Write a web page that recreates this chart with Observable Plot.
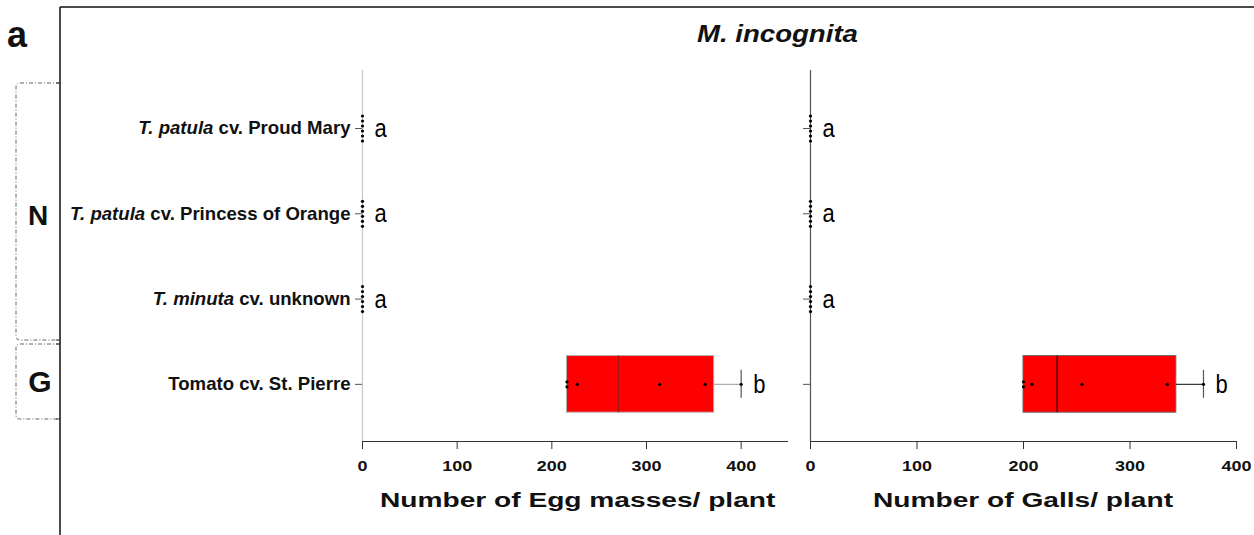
<!DOCTYPE html>
<html><head><meta charset="utf-8">
<script src="https://cdn.jsdelivr.net/npm/d3@7"></script>
<script src="https://cdn.jsdelivr.net/npm/@observablehq/plot@0.6"></script>
<style>
html,body{margin:0;padding:0;background:#fff;}
#wrap{position:relative;width:1254px;height:535px;overflow:hidden;font-family:"Liberation Sans",Arial,sans-serif;}
#wrap > svg{position:absolute;}
</style></head><body><div id="wrap"></div>
<script>
// ---- data ----
const species = ["T. patula", "T. patula", "T. minuta", "Tomato"];
const speciesItalic = [true, true, true, false];
const cultivars = ["Proud Mary", "Princess of Orange", "unknown", "St. Pierre"];
const groupNames = ["N", "G"];
const eggMasses = [[0,0,0,0,0,0],[0,0,0,0,0,0],[0,0,0,0,0,0],[216,216,227,314,362,400]];
const galls = [[0,0,0,0,0,0],[0,0,0,0,0,0],[0,0,0,0,0,0],[200,200,208,255,335,369]];
const eggLetters = ["a","a","a","b"];
const gallLetters = ["a","a","a","b"];
const xTicks = [0,100,200,300,400];
const panelLabel = "a";
const title = "M. incognita";
const eggLabel = "Number of Egg masses/ plant";
const gallLabel = "Number of Galls/ plant";

const labels = species.map((s,i)=> s + " cv. " + cultivars[i]);
const yDomain = [-0.68, 3.67];
const STACK = 0.0586, BOXH = 0.332, CAPH = 0.164;

function q6(s, p){ const h=(s.length+1)*p; const lo=Math.floor(h);
  if(lo<1) return s[0]; if(lo>=s.length) return s[s.length-1];
  return s[lo-1]+(h-lo)*(s[lo]-s[lo-1]); }

function scaleTexts(svg, sel, sx, sy){
  svg.querySelectorAll(sel).forEach(t=>{
    let tr = t.getAttribute("transform");
    if(!tr){ tr = `translate(${t.getAttribute("x")||0},${t.getAttribute("y")||0})`; t.removeAttribute("x"); t.removeAttribute("y"); }
    t.setAttribute("transform", tr + ` scale(${sx},${sy})`);
  });
}

function makePanel(values, letters, cfg){
  const stats = values.map((v,i)=>{ const s=[...v].sort((a,b)=>a-b);
    return {i, q1:q6(s,.25), med:q6(s,.5), q3:q6(s,.75), max:s[s.length-1], letter:letters[i]}; });
  const pts = [];
  values.forEach((v,i)=>{ const counts=d3.rollup(v,g=>g.length,d=>d); const seen=new Map();
    v.forEach(val=>{ const n=counts.get(val); const k=seen.get(val)||0; seen.set(val,k+1);
      pts.push({i, value:val, off:(k-(n-1)/2)*STACK}); }); });
  const boxes = stats.filter(d=>d.q3>d.q1);
  const whisk = stats.filter(d=>d.max>d.q3);
  const svg = Plot.plot({
    width: cfg.width, height: 475,
    marginLeft: cfg.ml, marginRight: cfg.mr, marginTop: 10, marginBottom: 94,
    style: {fontFamily:'"Liberation Sans", Arial, sans-serif', background:"transparent", overflow:"visible"},
    x: {domain: cfg.xdom},
    y: {domain: yDomain, reverse: true},
    marks: [
      Plot.ruleX([0], {stroke: cfg.yAxisColor, strokeWidth: 1.2}),
      Plot.ruleY([yDomain[1]], {stroke: "#333", strokeWidth: 1.2}),
      Plot.rect(boxes, {x1:"q1", x2:"q3", y1:d=>d.i-BOXH, y2:d=>d.i+BOXH, fill:"#ff0000", stroke: cfg.boxStroke, strokeWidth: 1}),
      Plot.ruleX(boxes, {x:"med", y1:d=>d.i-BOXH, y2:d=>d.i+BOXH, stroke: cfg.medColor, strokeWidth: 1}),
      Plot.ruleY(whisk, {y:"i", x1:"q3", x2:"max", stroke: cfg.whisker, strokeWidth: 1.2}),
      Plot.ruleX(whisk, {x:"max", y1:d=>d.i-CAPH, y2:d=>d.i+CAPH, stroke: cfg.cap, strokeWidth: 1.2}),
      Plot.dot(pts, {x:"value", y:d=>d.i+d.off, r:1.6, fill:"#000", stroke:null}),
      Plot.text(stats, {x:"max", y:"i", text:"letter", dx:12, textAnchor:"start", fontSize:22, fill:"#000"}),
      Plot.axisX({ticks: xTicks, tickSize: 8, tickPadding: 11, label: null, stroke:"#333",
        fontSize: 14.5, fontWeight: "bold", fill: "#111"}),
      Plot.axisY({ticks: [0,1,2,3], tickSize: 7, tickPadding: 5, label: null, stroke:"#555",
        fontSize: 18.6, fontWeight: "bold", fill: "#111",
        tickFormat: cfg.showLabels ? (i=>labels[i]) : (()=>"")})
    ]
  });
  svg.style.left = cfg.left + "px"; svg.style.top = "60px";
  scaleTexts(svg, 'g[aria-label="x-axis tick label"] text', 1.24, 1);
  scaleTexts(svg, 'g[aria-label="text"] text', 1, 1.2);
  if(cfg.showLabels){
    svg.querySelectorAll('g[aria-label="y-axis tick label"] text').forEach(t=>{
      const i = labels.indexOf(t.textContent); if(i<0) return;
      t.textContent = "";
      const a = document.createElementNS("http://www.w3.org/2000/svg","tspan");
      a.textContent = species[i]; if(speciesItalic[i]) a.setAttribute("font-style","italic");
      const b = document.createElementNS("http://www.w3.org/2000/svg","tspan");
      b.textContent = " cv. " + cultivars[i];
      t.appendChild(a); t.appendChild(b);
    });
  }
  return svg;
}

const wrap = document.getElementById("wrap");
wrap.appendChild(makePanel(eggMasses, eggLetters, {left:60, width:735, ml:302, mr:7, xdom:[0,450],
  yAxisColor:"#c8c8c8", boxStroke:"#b0b0b0", medColor:"#a01010", whisker:"#aaaaaa", cap:"#555", showLabels:true}));
wrap.appendChild(makePanel(galls, gallLetters, {left:795, width:459, ml:15, mr:18, xdom:[0,400],
  yAxisColor:"#555", boxStroke:"#666", medColor:"#000", whisker:"#333", cap:"#555", showLabels:false}));

// ---- decorations ----
const deco = `
<svg width="1254" height="535" style="left:0;top:0;pointer-events:none" font-family='"Liberation Sans", Arial, sans-serif'>
  <path d="M60,7 H1254 M60,7 V535" stroke="#111" stroke-width="1.5" fill="none"/>
  <text x="7" y="47" font-size="36" font-weight="bold" fill="#111">${panelLabel}</text>
  <path d="M60,83 H20 Q16,83 16,87 V336 Q16,340 20,340 H60" stroke="#666" stroke-width="1" fill="none" stroke-dasharray="4 2 1 2"/>
  <path d="M60,344 H20 Q16,344 16,348 V415 Q16,419 20,419 H60" stroke="#666" stroke-width="1" fill="none" stroke-dasharray="4 2 1 2"/>
  <path d="M56,83 H61 M56,340 H61 M56,344 H61 M56,419 H61" stroke="#333" stroke-width="1.2"/>
  <text x="38" y="225" text-anchor="middle" font-size="28" font-weight="bold" fill="#111">${groupNames[0]}</text>
  <text x="40" y="392" text-anchor="middle" font-size="30" font-weight="bold" fill="#111">${groupNames[1]}</text>
  <text transform="translate(697,41.5) scale(1.2,1)" font-size="23" font-weight="bold" font-style="italic" fill="#111">${title}</text>
  <text transform="translate(380,506.5) scale(1.34,1)" font-size="21" font-weight="bold" fill="#111">${eggLabel}</text>
  <text transform="translate(873,506.5) scale(1.34,1)" font-size="21" font-weight="bold" fill="#111">${gallLabel}</text>
</svg>`;
wrap.insertAdjacentHTML("beforeend", deco);
</script></body></html>
